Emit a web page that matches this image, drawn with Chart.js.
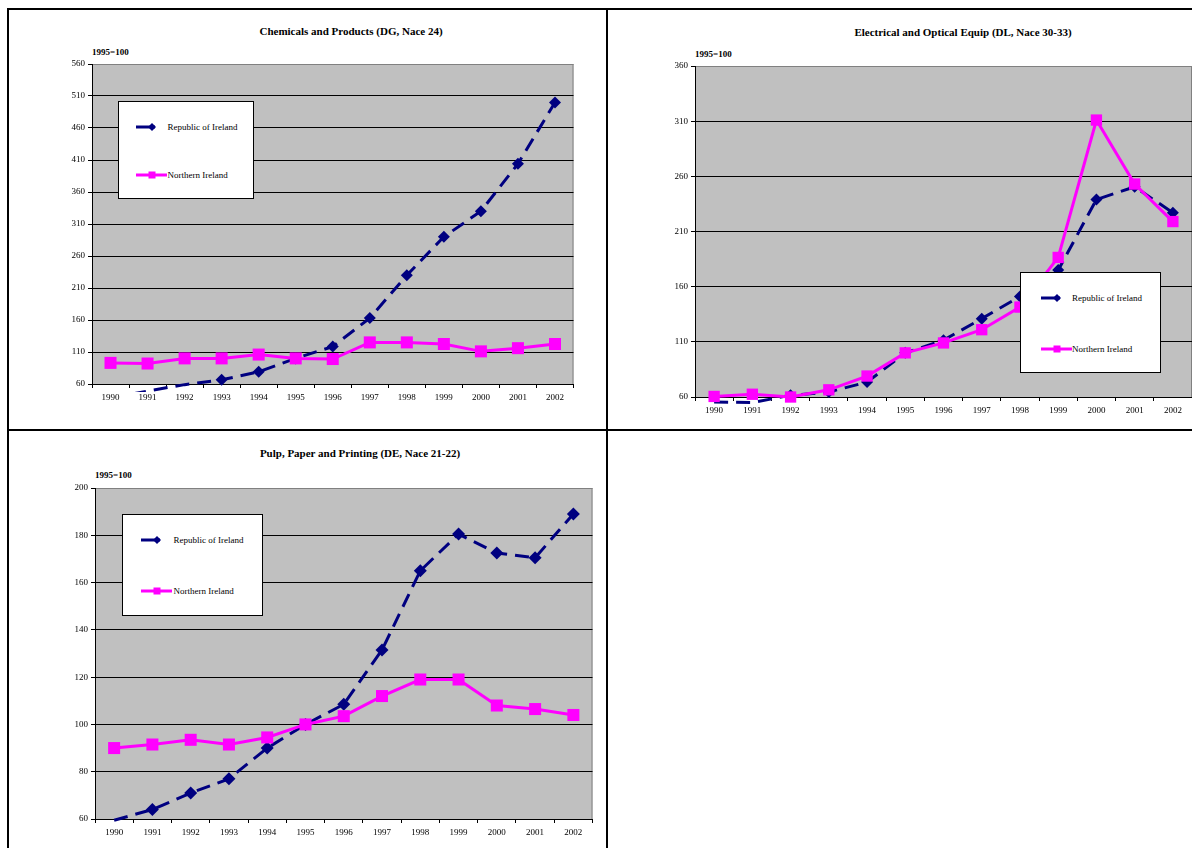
<!DOCTYPE html>
<html>
<head>
<meta charset="utf-8">
<script src="https://cdn.jsdelivr.net/npm/chart.js@4.4.1/dist/chart.umd.min.js"></script>
<style>
  html, body { margin: 0; padding: 0; background: #fff; width: 1192px; height: 848px; overflow: hidden; }
  body { position: relative; font-family: "Liberation Serif", "Times New Roman", serif; color: #000; }
  .rule { position: absolute; background: #000; }
  canvas { position: absolute; }
  .ttl { position: absolute; font-weight: bold; font-size: 11px; line-height: 1; white-space: nowrap; transform: translate(-50%, -50%); }
  .unit { position: absolute; font-weight: bold; font-size: 9px; line-height: 1; white-space: nowrap; transform: translateY(-50%); }
  .lg { position: absolute; background: #fff; border: 1px solid #000; box-sizing: border-box; }
  .lg svg { position: absolute; overflow: visible; }
  .lg span { position: absolute; font-size: 9px; line-height: 1; white-space: nowrap; transform: translateY(-50%); }
</style>
</head>
<body>

<!-- panel frame -->
<div class="rule" style="left:7px; top:8px; width:1185px; height:2px;"></div>
<div class="rule" style="left:7px; top:429px; width:1185px; height:2px;"></div>
<div class="rule" style="left:7px; top:8px; width:2px; height:840px;"></div>
<div class="rule" style="left:606px; top:8px; width:2px; height:840px;"></div>

<div class="ttl" style="left:351px; top:31px;">Chemicals and Products (DG, Nace 24)</div>
<div class="unit" style="left:92px; top:52px;">1995=100</div>
<canvas id="chem" width="542" height="354" style="left:40px; top:54px;"></canvas>

<div class="ttl" style="left:963px; top:32px;">Electrical and Optical Equip (DL, Nace 30-33)</div>
<div class="unit" style="left:695px; top:54px;">1995=100</div>
<canvas id="elec" width="557" height="365" style="left:643px; top:56px;"></canvas>

<div class="ttl" style="left:360px; top:453px;">Pulp, Paper and Printing (DE, Nace 21-22)</div>
<div class="unit" style="left:95px; top:475px;">1995=100</div>
<canvas id="pulp" width="558" height="365" style="left:43px; top:478px;"></canvas>

<script>
// Index values, 1995 = 100
const years = ['1990', '1991', '1992', '1993', '1994', '1995', '1996', '1997', '1998', '1999', '2000', '2001', '2002'];

const seriesNames = ['Republic of Ireland', 'Northern Ireland'];

const chemRoi = [38, 49, 59, 66.5, 79, 100, 118.5, 163, 230, 290, 330, 404, 500];
const chemNi  = [93, 92, 100, 100, 106, 100, 99, 125, 125, 122.5, 111, 116, 122.5];

const elecRoi = [55.5, 55, 61.5, 64.5, 73.5, 100, 111.5, 131, 151, 175, 239, 250.5, 227];
const elecNi  = [60.5, 62.5, 60, 66.5, 79, 100, 109, 121, 141.5, 186.5, 311, 253, 219];

const pulpRoi = [59.5, 64, 71, 77, 90, 100, 108.5, 131.5, 165, 180.5, 172.5, 170.5, 189];
const pulpNi  = [90, 91.5, 93.5, 91.5, 94.5, 100, 103.5, 112, 119, 119, 108, 106.5, 104];

// axis ranges: [min, max, step]
const chemAxis = [60, 560, 50];
const elecAxis = [60, 360, 50];
const pulpAxis = [60, 200, 20];

const ROI_COLOR = '#000080';
const NI_COLOR = '#FF00FF';
const FONT = 'Liberation Serif';

// grey plot area with a grey right-hand frame line
const plotBg = {
  id: 'plotBg',
  beforeDraw(chart) {
    const { ctx, chartArea: a } = chart;
    ctx.save();
    ctx.fillStyle = '#C0C0C0';
    ctx.fillRect(a.left, a.top, a.right - a.left, a.bottom - a.top);
    ctx.strokeStyle = '#808080';
    ctx.lineWidth = 1;
    ctx.beginPath();
    ctx.moveTo(a.right - 0.5, a.top);
    ctx.lineTo(a.right - 0.5, a.bottom);
    ctx.stroke();
    ctx.restore();
  }
};

function makeChart(id, roi, ni, axis, sizes) {
  const [yMin, yMax, yStep] = axis;
  return new Chart(document.getElementById(id), {
    type: 'line',
    data: {
      labels: years,
      datasets: [
        {
          label: seriesNames[0],
          data: roi,
          order: 1,
          borderColor: ROI_COLOR,
          backgroundColor: ROI_COLOR,
          borderWidth: 3,
          borderDash: [14, 8],
          tension: 0,
          pointStyle: 'rectRot',
          pointRadius: c => (c.raw < yMin ? 0 : sizes.diamond),
          pointHoverRadius: c => (c.raw < yMin ? 0 : sizes.diamond),
          pointBorderWidth: 0,
          clip: { left: 10, top: 10, right: 10, bottom: sizes.below }
        },
        {
          label: seriesNames[1],
          data: ni,
          order: 0,
          borderColor: NI_COLOR,
          backgroundColor: NI_COLOR,
          borderWidth: 3,
          tension: 0,
          pointStyle: 'rect',
          pointRadius: sizes.square,
          pointHoverRadius: sizes.square,
          pointBorderWidth: 0,
          clip: { left: 10, top: 10, right: 10, bottom: 10 }
        }
      ]
    },
    options: {
      responsive: false,
      animation: false,
      events: [],
      layout: { padding: { top: 10, right: 4, bottom: 0, left: 0 } },
      plugins: {
        legend: { display: false },
        title: { display: false },
        tooltip: { enabled: false }
      },
      scales: {
        x: {
          offset: true,
          afterFit(s) { s.height = 24; },
          ticks: { color: '#000', font: { family: FONT, size: 9 }, padding: 4, maxRotation: 0, autoSkip: false },
          grid: { drawOnChartArea: false, offset: true, tickLength: 4, color: '#000', lineWidth: 1 },
          border: { color: '#000', width: 1 }
        },
        y: {
          min: yMin,
          max: yMax,
          afterFit(s) { s.width = 52; },
          ticks: { stepSize: yStep, color: '#000', font: { family: FONT, size: 9 }, padding: 3 },
          grid: {
            color: c => (c.tick && c.tick.value === yMax ? '#808080' : '#000'),
            tickColor: '#000',
            tickLength: 4,
            lineWidth: 1
          },
          border: { color: '#000', width: 1 }
        }
      }
    },
    plugins: [plotBg]
  });
}

makeChart('chem', chemRoi, chemNi, chemAxis, { diamond: 6, square: 8.5, below: 8 });
makeChart('elec', elecRoi, elecNi, elecAxis, { diamond: 6, square: 8, below: 7 });
makeChart('pulp', pulpRoi, pulpNi, pulpAxis, { diamond: 6.5, square: 8.5, below: 8 });

// boxed legends drawn inside the plot areas
function addLegend(box) {
  const el = document.createElement('div');
  el.className = 'lg';
  el.style.left = box.left + 'px';
  el.style.top = box.top + 'px';
  el.style.width = box.width + 'px';
  el.style.height = box.height + 'px';
  const ns = 'http://www.w3.org/2000/svg';
  const rows = [
    { y: box.row1, name: seriesNames[0], color: ROI_COLOR, kind: 'diamond' },
    { y: box.row2, name: seriesNames[1], color: NI_COLOR, kind: 'square' }
  ];
  rows.forEach(r => {
    const svg = document.createElementNS(ns, 'svg');
    svg.setAttribute('width', '31');
    svg.setAttribute('height', '12');
    svg.style.left = box.sampleX + 'px';
    svg.style.top = (r.y - 6) + 'px';
    const line = document.createElementNS(ns, 'line');
    line.setAttribute('x1', '0'); line.setAttribute('x2', '31');
    line.setAttribute('y1', '6'); line.setAttribute('y2', '6');
    line.setAttribute('stroke', r.color);
    line.setAttribute('stroke-width', '3');
    if (r.kind === 'diamond') line.setAttribute('stroke-dasharray', '19 12');
    svg.appendChild(line);
    if (r.kind === 'diamond') {
      const p = document.createElementNS(ns, 'polygon');
      p.setAttribute('points', '16,2 20,6 16,10 12,6');
      p.setAttribute('fill', r.color);
      svg.appendChild(p);
    } else {
      const q = document.createElementNS(ns, 'rect');
      q.setAttribute('x', '12.5'); q.setAttribute('y', '2.5');
      q.setAttribute('width', '7'); q.setAttribute('height', '7');
      q.setAttribute('fill', r.color);
      svg.appendChild(q);
    }
    el.appendChild(svg);
    const t = document.createElement('span');
    t.textContent = r.name;
    t.style.left = box.textX + 'px';
    t.style.top = r.y + 'px';
    el.appendChild(t);
  });
  document.body.appendChild(el);
}

addLegend({ left: 118, top: 101, width: 136, height: 98, sampleX: 17, textX: 48.5, row1: 24.5, row2: 73 });
addLegend({ left: 1020, top: 272, width: 141, height: 101, sampleX: 19.5, textX: 51, row1: 24.5, row2: 75.5 });
addLegend({ left: 122, top: 514, width: 141, height: 102, sampleX: 18, textX: 50.5, row1: 25, row2: 75.5 });
</script>
</body>
</html>
